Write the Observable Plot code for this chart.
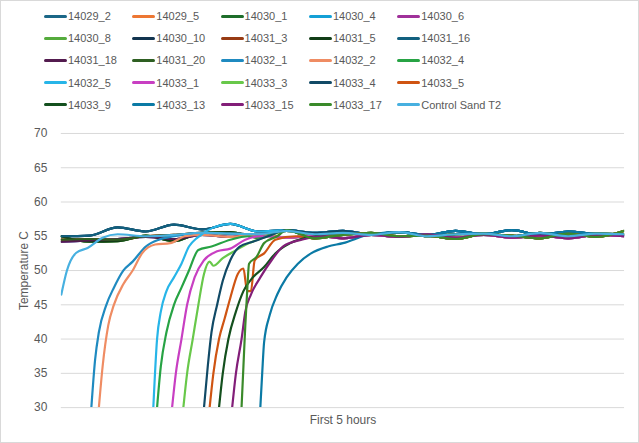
<!DOCTYPE html><html><head><meta charset="utf-8">
<script src="https://cdn.jsdelivr.net/npm/d3@7"></script>
<script src="https://cdn.jsdelivr.net/npm/@observablehq/plot@0.6"></script>
<style>
body{margin:0;background:#fff;font-family:"Liberation Sans",Arial,sans-serif}
#wrap{width:637px;height:441px;border:1px solid #d9d9d9;position:relative}
#legend{position:absolute;left:43px;top:9px;width:600px}
.it{position:absolute;font-size:11px;color:#595959;white-space:nowrap;display:flex;align-items:center}
.sw{display:inline-block;width:23px;height:3px;border-radius:2px;margin-right:1px}
#chart{position:absolute;left:0;top:125px}
</style></head><body><div id="wrap"><div id="legend"></div><div id="chart"></div></div>
<script>
const names=["14029_2","14029_5","14030_1","14030_4","14030_6","14030_8","14030_10","14031_3","14031_5","14031_16","14031_18","14031_20","14032_1","14032_2","14032_4","14032_5","14033_1","14033_3","14033_4","14033_5","14033_9","14033_13","14033_15","14033_17","Control Sand T2"];
const colors=["#1b6787","#ed7733","#1e6e2a","#14a0d6","#a0319a","#55ab3c","#12344f","#973b14","#123d17","#12607f","#531b4f","#2e5f22","#1f8ac0","#ef8c63","#27a344","#27b5e8","#c83fc2","#68c84a","#114a66","#cf5412","#14501e","#0b7aa5","#821e78","#3a8a2a","#47b0e0"];
const plateauX=[0,15,30,45,60,75,90,105,120,135,150,165,180,195,210,225,240,255,270,285,300];
const pA=[55,55.1,56.3,55.7,56.7,56,56.8,55.7,55.9,55.5,55.8,55.3,55.6,55.2,55.8,55.3,55.9,55.2,55.7,55.3,55.2];
const pB=[54.5,54.6,54.5,55,55.2,55.5,55.4,55.3,55.8,55.3,55.5,55.2,55.6,55,55.3,55.4,55,55.5,55,55.4,55.3];
const pC=[54.2,54.4,54.6,54.9,54.6,55.2,54.9,55.3,54.8,55.1,54.7,55.2,54.9,55.3,54.8,55.2,54.8,55.1,54.7,55.2,55];
const pD=[55,54.2,54.3,55.1,54.3,55.5,55.6,54.8,55.9,54.7,55.2,55.5,55,55.1,54.6,55.3,55.1,54.7,55.4,54.9,55.8];
const flat={"14029_2":pA,"14029_5":pB,"14030_1":pD,"14030_4":pC,"14030_6":pC,"14030_8":pD,"14030_10":pA,"14031_3":pB,"14031_5":pD,"14031_16":pA,"14031_18":pC,"14031_20":pB};
const rise={
"14032_1":[[16,30],[18,37],[20,41],[24,45],[28,47.5],[33,50],[38,51.3],[45,53.5],[52,54.5],[60,55]],
"14032_2":[[20,30],[22,36],[25,42],[28,45],[33,48],[38,50],[43,52.5],[50,53.8],[58,54],[66,55]],
"14032_5":[[49,30],[51,40],[53,44],[56,47],[60,49],[64,51],[68,53.5],[72,54.7]],
"14032_4":[[51,30],[53,36],[56,41],[60,45],[64,47.5],[68,50],[73,53],[80,53.5],[90,54.5],[100,55]],
"14033_1":[[59,30],[61,35],[64,40],[67,45],[71,49],[76,51.5],[83,52.8],[90,53.2],[98,54.5],[106,55]],
"14033_3":[[65,30],[67,35],[70,40],[73,45],[76,49.5],[79,51.3],[81,50.7],[86,51.8],[92,52.8],[100,54],[110,55]],
"14033_4":[[76,30],[78,36],[80,41],[83,45],[86,48.5],[90,51.5],[95,53.5],[102,54.2],[110,55]],
"14033_5":[[79,30],[81,35],[84,40],[87,43],[90,46],[94,49.5],[97,50.3],[99,47],[101,47],[103,51.5],[108,52.5],[114,54.5],[125,55]],
"14033_9":[[84,30],[86,35],[89,40],[93,44],[97,47],[102,49],[108,50.5],[114,52.5],[122,54],[135,55]],
"14033_15":[[91,30],[93,35],[96,40],[98,44],[101,46.5],[106,49],[112,51.5],[118,53.5],[128,54.5],[140,55]],
"14033_17":[[96,30],[97,36],[98,42],[99,47],[100,51],[104,52],[108,54],[115,55]],
"14033_13":[[106,30],[107,35],[108,39.5],[111,43.5],[115,46.5],[120,49],[126,51],[133,52.5],[142,53.5],[150,54]],
"Control Sand T2":[[0,46.5],[3,50],[8,52.6],[14,53.3],[22,54.8],[30,55.3]]};
const riseTail={"14032_1":pB,"14032_2":pC,"14032_5":pA,"14032_4":pD,"14033_1":pC,"14033_3":pB,"14033_4":pA,"14033_5":pD,"14033_9":pB,"14033_15":pC,"14033_17":pD,"14033_13":pA,"Control Sand T2":pB};
const yTicks=[30,35,40,45,50,55,60,65,70];
const data=[];
names.forEach(n=>{
  if(flat[n]) plateauX.forEach((x,i)=>data.push({s:n,x,y:flat[n][i]}));
  else {const r=rise[n];r.forEach(p=>data.push({s:n,x:p[0],y:p[1]}));const last=r[r.length-1][0];
    plateauX.forEach((x,i)=>{if(x>last+4)data.push({s:n,x,y:riseTail[n][i]})});}
});
const leg=document.getElementById("legend");
names.forEach((n,i)=>{const d=document.createElement("div");d.className="it";
 d.style.left=(i%5)*88.3+"px";d.style.top=Math.floor(i/5)*22.2+"px";
 d.innerHTML=`<span class="sw" style="background:${colors[i]}"></span>${n}`;leg.appendChild(d);});
const plot=Plot.plot({width:639,height:318,marginLeft:60,marginRight:14,marginTop:7,marginBottom:36,
 style:{fontFamily:"Liberation Sans, Arial, sans-serif",fontSize:"11px",color:"#595959"},
 x:{domain:[0,300],axis:null},
 y:{domain:[30,70]},
 color:{domain:names,range:colors},
 marks:[
  Plot.gridY(yTicks,{stroke:"#d9d9d9",strokeOpacity:1}),
  Plot.axisY({ticks:yTicks,tickSize:0,tickPadding:14,label:"Temperature C",labelAnchor:"center",labelArrow:"none",labelOffset:42,fontSize:12}),
  Plot.axisX({ticks:[],label:"First 5 hours",labelAnchor:"center",labelArrow:"none",labelOffset:16,fontSize:12,tickSize:0}),
  Plot.line(data,{x:"x",y:"y",z:"s",stroke:"s",strokeWidth:2.2,curve:"monotone-x",clip:true})
 ]});
document.getElementById("chart").appendChild(plot);
</script></body></html>
